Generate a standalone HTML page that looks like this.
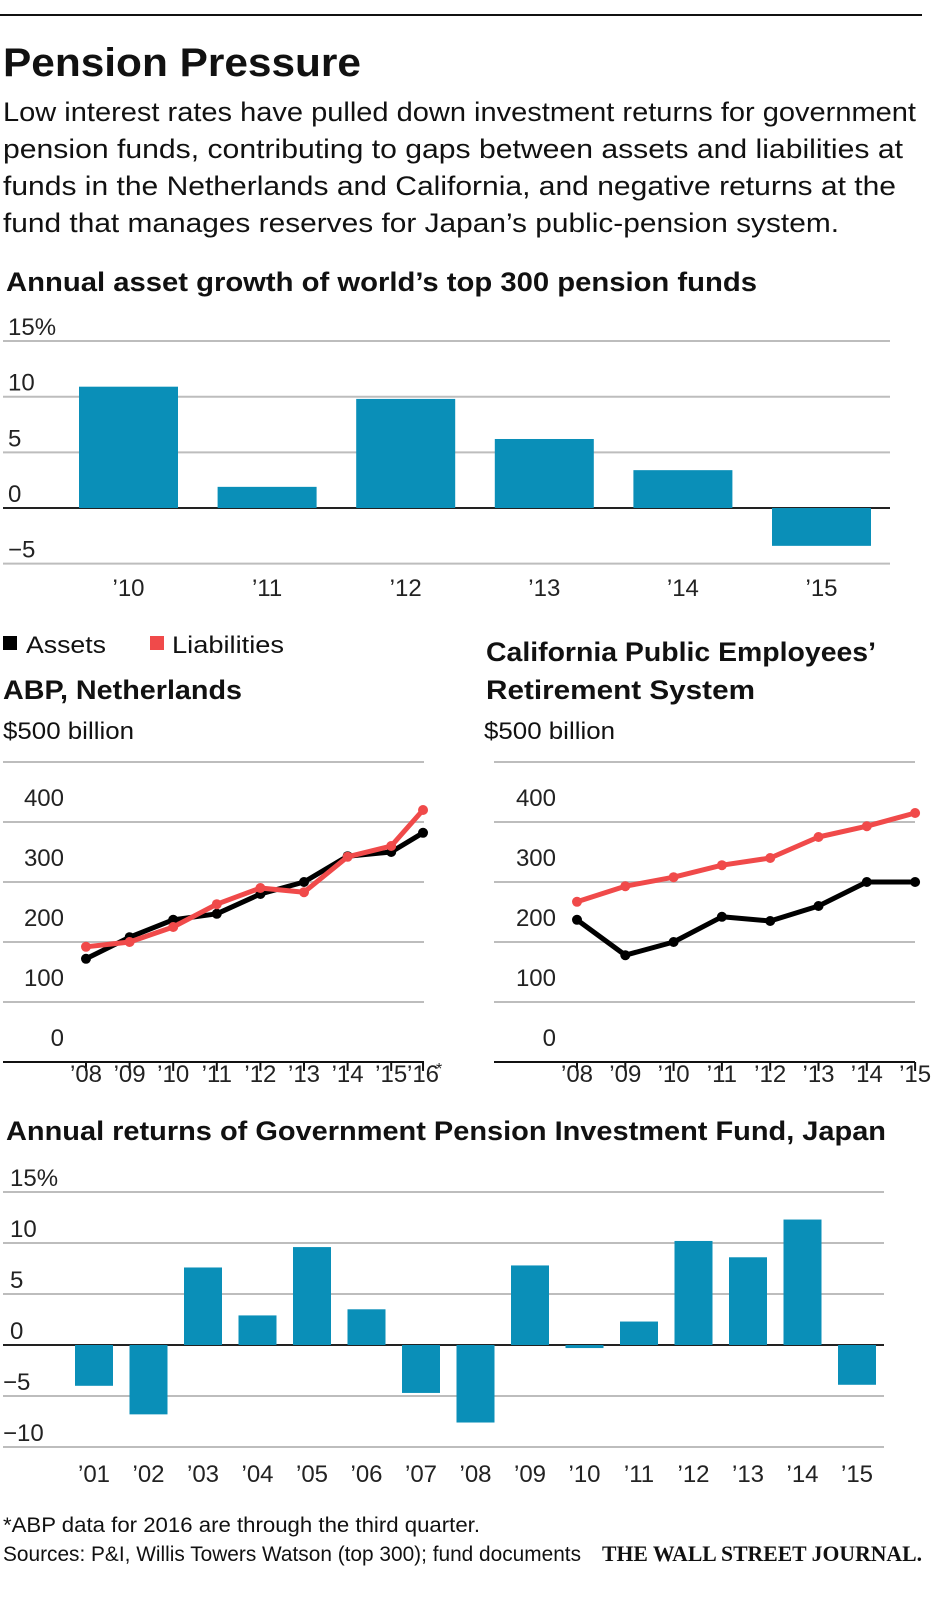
<!DOCTYPE html>
<html><head><meta charset="utf-8"><style>
html,body{margin:0;padding:0;background:#fff;}
svg{display:block;font-family:"Liberation Sans",sans-serif;}
.t{fill:#111;}
.tick{font-size:24px;fill:#222;}
.grid{stroke:#bdbdbd;stroke-width:2;}
</style></head><body>
<svg id="root" width="946" height="1600" viewBox="0 0 946 1600">
<line x1="0" y1="15" x2="922" y2="15" stroke="#111" stroke-width="2"/>
<text x="3" y="76" font-size="40" font-weight="bold" class="t" textLength="358" lengthAdjust="spacingAndGlyphs">Pension Pressure</text>
<g font-size="27" class="t">
<text x="3" y="121" textLength="913" lengthAdjust="spacingAndGlyphs">Low interest rates have pulled down investment returns for government</text>
<text x="3" y="158" textLength="900" lengthAdjust="spacingAndGlyphs">pension funds, contributing to gaps between assets and liabilities at</text>
<text x="3" y="195" textLength="893" lengthAdjust="spacingAndGlyphs">funds in the Netherlands and California, and negative returns at the</text>
<text x="3" y="232" textLength="836" lengthAdjust="spacingAndGlyphs">fund that manages reserves for Japan’s public-pension system.</text>
</g>
<text x="6" y="291" font-size="27" font-weight="bold" class="t" textLength="751" lengthAdjust="spacingAndGlyphs">Annual asset growth of world’s top 300 pension funds</text>
<g id="c1"></g>

<rect x="3" y="636" width="14" height="14" fill="#000"/>
<text x="26" y="653" font-size="24" class="t" textLength="80" lengthAdjust="spacingAndGlyphs">Assets</text>
<rect x="150" y="636" width="14" height="14" fill="#f04a4a"/>
<text x="172" y="653" font-size="24" class="t" textLength="112" lengthAdjust="spacingAndGlyphs">Liabilities</text>

<text x="3" y="699" font-size="27" font-weight="bold" class="t" textLength="239" lengthAdjust="spacingAndGlyphs">ABP, Netherlands</text>
<text x="3" y="739" font-size="24" class="t" textLength="131" lengthAdjust="spacingAndGlyphs">$500 billion</text>
<text x="486" y="661" font-size="27" font-weight="bold" class="t" textLength="390" lengthAdjust="spacingAndGlyphs">California Public Employees’</text>
<text x="486" y="699" font-size="27" font-weight="bold" class="t" textLength="269" lengthAdjust="spacingAndGlyphs">Retirement System</text>
<text x="484" y="739" font-size="24" class="t" textLength="131" lengthAdjust="spacingAndGlyphs">$500 billion</text>
<g id="c2"></g>
<g id="c3"></g>

<text x="6" y="1140" font-size="27" font-weight="bold" class="t" textLength="880" lengthAdjust="spacingAndGlyphs">Annual returns of Government Pension Investment Fund, Japan</text>
<g id="c4"></g>

<text x="3" y="1532" font-size="21" class="t" textLength="477" lengthAdjust="spacingAndGlyphs">*ABP data for 2016 are through the third quarter.</text>
<text x="3" y="1561" font-size="21" class="t" textLength="578" lengthAdjust="spacingAndGlyphs">Sources: P&amp;I, Willis Towers Watson (top 300); fund documents</text>
<text x="602" y="1561" font-size="22" font-weight="bold" font-family="Liberation Serif,serif" class="t" textLength="320" lengthAdjust="spacingAndGlyphs">THE WALL STREET JOURNAL.</text>
</svg>
<script>
// Chart 1: world's top 300 asset growth
const c1Cats = ["’10","’11","’12","’13","’14","’15"];
const c1Vals = [10.9, 1.9, 9.8, 6.2, 3.4, -3.4];
const c1Ticks = [15, 10, 5, 0, -5];
const c1TickLabels = ["15%","10","5","0","−5"];
// Chart 2: ABP Netherlands (2016 data through Q3, plotted at 3/4 of a year after 2015)
const abpYears = [2008,2009,2010,2011,2012,2013,2014,2015,2015.73];
const abpLabels = ["’08","’09","’10","’11","’12","’13","’14","’15","’16"];
const abpAssets = [172,208,237,247,280,300,343,350,382];
const abpLiab = [192,200,225,263,290,283,342,360,420];
// Chart 3: CalPERS
const calYears = [2008,2009,2010,2011,2012,2013,2014,2015];
const calLabels = ["’08","’09","’10","’11","’12","’13","’14","’15"];
const calAssets = [237,178,200,242,235,260,300,300];
const calLiab = [267,293,308,328,340,375,393,415];
const lineTicks = [500,400,300,200,100,0];
// Chart 4: GPIF
const c4Cats = ["’01","’02","’03","’04","’05","’06","’07","’08","’09","’10","’11","’12","’13","’14","’15"];
const c4Vals = [-4.0,-6.8,7.6,2.9,9.6,3.5,-4.7,-7.6,7.8,-0.3,2.3,10.2,8.6,12.3,-3.9];
const c4Ticks = [15,10,5,0,-5,-10];
const c4TickLabels = ["15%","10","5","0","−5","−10"];

const NS="http://www.w3.org/2000/svg";
function mk(parent,tag,attrs){const e=document.createElementNS(NS,tag);for(const k in attrs)e.setAttribute(k,attrs[k]);parent.appendChild(e);return e;}

// Chart 1
(function(){
  const g=document.getElementById('c1');
  const y=v=>508-v*11.13;
  const x=i=>128.5+i*138.6;
  c1Ticks.forEach((t,i)=>{
    const l=mk(g,'line',{x1:3,x2:890,y1:y(t),y2:y(t),class:'grid'});
    
    
    const tx=mk(g,'text',{x:8,y:y(t)-6,class:'tick'});tx.textContent=c1TickLabels[i];
    
    
  });
  const z=mk(g,'line',{x1:3,x2:890,y1:y(0),y2:y(0),stroke:'#222','stroke-width':2});
  
  
  c1Vals.forEach((v,i)=>{
    const r=mk(g,'rect',{x:x(i)-49.5,width:99,y:Math.min(y(v),y(0)),height:Math.abs(y(v)-y(0)),fill:'#0a8fb8'});
    
    
    const tx=mk(g,'text',{x:x(i),y:596,class:'tick','text-anchor':'middle'});tx.textContent=c1Cats[i];
    
    
  });
})();

function lineChart(id,years,labels,assets,liab,x0,xStep,gx1,gx2,labRight){
  const g=document.getElementById(id);
  const y=v=>1062-v*0.6;
  const x=yr=>x0+(yr-2008)*xStep;
  lineTicks.forEach(t=>{
    if(t===0)return;
    const l=mk(g,'line',{x1:gx1,x2:gx2,y1:y(t),y2:y(t),class:'grid'});
    
    
  });
  lineTicks.forEach(t=>{
    if(t===500)return;
    const tx=mk(g,'text',{x:labRight,y:y(t)-16,class:'tick','text-anchor':'end'});tx.textContent=t;
    
    
  });
  const ax=mk(g,'line',{x1:gx1,x2:gx2,y1:y(0),y2:y(0),stroke:'#111','stroke-width':2});
  
  
  years.forEach((yr,i)=>{
    const tk=mk(g,'line',{x1:x(yr),x2:x(yr),y1:y(0),y2:y(0)+9,stroke:'#111','stroke-width':2});
    
    
    const tx=mk(g,'text',{x:x(yr),y:1082,class:'tick','text-anchor':'middle'});tx.textContent=labels[i];
    
    
  });
  [[assets,'#000','assets'],[liab,'#f04a4a','liabilities']].forEach(([arr,col,nm])=>{
    const p=mk(g,'polyline',{points:arr.map((v,i)=>x(years[i])+','+y(v)).join(' '),fill:'none',stroke:col,'stroke-width':5,'stroke-linejoin':'round'});
    
    
    arr.forEach((v,i)=>{
      const c=mk(g,'circle',{cx:x(years[i]),cy:y(v),r:5,fill:col});
      
      
    });
  });
  return g;
}
const g2=lineChart('c2',abpYears,abpLabels,abpAssets,abpLiab,86,43.6,3,424,64);
const star=mk(g2,'text',{x:436,y:1074,'font-size':16,fill:'#222'});star.textContent='*';


lineChart('c3',calYears,calLabels,calAssets,calLiab,577,48.3,494,915,556);

// Chart 4
(function(){
  const g=document.getElementById('c4');
  const y=v=>1345-v*10.2;
  const x=i=>94+i*54.5;
  c4Ticks.forEach((t,i)=>{
    const l=mk(g,'line',{x1:3,x2:884,y1:y(t),y2:y(t),class:'grid'});
    
    
    const tx=mk(g,'text',{x:t<0?3:10,y:y(t)-6,class:'tick'});tx.textContent=c4TickLabels[i];
    
    
  });
  const z=mk(g,'line',{x1:3,x2:884,y1:y(0),y2:y(0),stroke:'#222','stroke-width':2});
  
  
  c4Vals.forEach((v,i)=>{
    const r=mk(g,'rect',{x:x(i)-19,width:38,y:Math.min(y(v),y(0)),height:Math.max(2,Math.abs(y(v)-y(0))),fill:'#0a8fb8'});
    
    
    const tx=mk(g,'text',{x:x(i),y:1482,class:'tick','text-anchor':'middle'});tx.textContent=c4Cats[i];
    
    
  });
})();
</script>
</body></html>
